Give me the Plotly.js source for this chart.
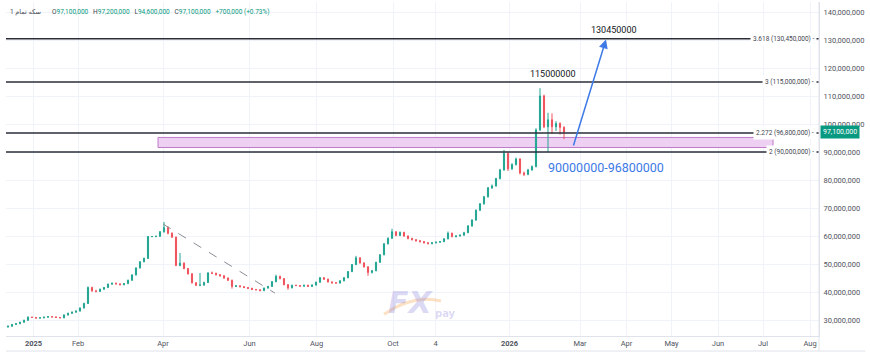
<!DOCTYPE html>
<html>
<head>
<meta charset="utf-8">
<script src="https://cdn.plot.ly/plotly-3.0.1.min.js"></script>
<style>html,body{margin:0;padding:0;background:#fff;}#chart{width:870px;height:357px;}</style>
</head>
<body>
<div id="chart"></div>
<script>
// Prices in millions of rials (one candle per bar)
const openM = [
27.5,27.8,28.4,28.7,29.2,29.9,31.0,30.9,30.7,30.8,
31.0,31.2,31.1,30.9,30.8,31.8,32.4,32.8,33.2,34.3,
35.9,41.6,40.4,40.2,41.0,41.6,42.8,43.1,42.9,42.6,
43.0,44.2,46.1,48.6,50.8,52.0,59.8,59.8,59.9,61.5,
63.0,61.0,59.6,49.5,50.3,48.4,46.5,43.3,42.4,42.5,
43.4,46.8,46.7,46.2,45.8,45.0,44.2,42.0,42.2,41.9,
41.6,41.3,40.9,40.8,40.5,41.4,42.0,43.7,45.6,44.8,
42.6,41.5,42.4,42.3,42.1,42.4,42.0,42.5,43.5,45.1,
44.6,43.6,43.3,43.2,44.0,45.1,47.3,49.8,52.2,50.4,
49.0,47.0,47.6,50.6,53.3,57.2,59.2,61.5,60.2,61.3,
60.0,59.1,58.7,58.3,58.0,57.6,57.3,57.6,57.8,58.0,
59.0,61.0,59.8,60.0,60.3,61.2,63.6,65.7,69.2,71.5,
74.0,77.2,77.9,80.5,83.6,89.5,84.0,85.5,87.5,82.5,
82.0,83.6,84.8,97.9,110.0,99.0,101.5,99.0,100.2,98.8];
const highM = [
28.0,28.6,28.9,29.4,30.1,31.3,31.2,31.1,31.0,31.2,
31.4,31.4,31.3,31.1,32.0,32.6,33.0,33.4,34.5,36.2,
42.0,41.9,40.8,41.2,41.8,43.0,43.4,43.4,43.1,43.2,
44.4,46.3,48.8,51.0,52.3,60.0,60.0,60.1,61.8,65.0,
63.5,61.3,59.8,53.9,50.6,48.6,46.7,43.5,46.8,43.7,
47.1,47.3,46.9,46.4,46.0,45.2,44.4,42.5,42.4,42.1,
41.8,41.5,41.1,41.0,41.6,42.2,43.9,46.2,45.8,45.0,
42.8,42.6,42.6,42.5,42.6,42.6,42.7,43.7,45.4,45.3,
44.8,43.8,43.5,44.2,45.3,47.5,50.0,52.9,52.4,50.6,
49.2,47.9,50.8,53.5,57.5,59.5,62.6,61.7,61.6,61.5,
60.2,59.4,58.9,58.6,58.2,57.8,57.8,58.0,58.2,59.2,
61.6,61.2,60.3,60.5,61.5,63.9,66.0,69.5,71.8,74.3,
77.5,78.4,80.8,84.0,90.7,89.8,86.0,88.0,87.8,83.0,
84.0,85.2,98.5,112.8,110.5,104.0,103.8,101.0,100.6,99.2];
const lowM = [
27.3,27.6,28.2,28.5,29.0,29.7,30.7,30.5,30.5,30.6,
30.8,30.9,30.7,30.6,30.6,31.6,32.2,32.6,33.0,34.1,
35.7,40.1,39.9,40.0,40.8,41.4,42.6,42.7,42.4,42.4,
42.8,44.0,45.9,48.4,50.6,51.8,59.6,59.6,59.7,61.2,
60.6,59.3,49.2,49.2,48.1,46.2,43.0,42.1,42.1,42.2,
43.2,46.4,45.9,45.5,44.7,43.9,41.2,41.8,41.7,41.4,
41.1,40.7,40.6,40.3,40.3,41.2,41.8,43.5,44.5,42.4,
40.8,41.3,42.1,41.9,41.9,41.8,41.8,42.3,43.3,44.3,
43.4,43.0,42.9,43.0,43.8,44.9,47.1,49.6,50.1,48.7,
45.8,46.6,47.4,50.4,53.1,57.0,59.0,59.9,60.0,59.7,
58.8,58.4,58.0,57.7,57.3,57.0,57.0,57.3,57.6,57.8,
58.8,59.5,59.5,59.8,60.1,61.0,63.3,65.4,68.9,71.2,
73.7,76.8,77.6,80.2,83.3,83.2,83.6,85.2,82.0,81.4,
81.7,83.3,84.5,97.5,98.5,90.1,96.5,97.5,96.2,94.6];
const closeM = [
27.8,28.4,28.7,29.2,29.9,31.0,30.9,30.7,30.8,31.0,
31.2,31.1,30.9,30.8,31.8,32.4,32.8,33.2,34.3,35.9,
41.6,40.4,40.2,41.0,41.6,42.8,43.1,42.9,42.6,43.0,
44.2,46.1,48.6,50.8,52.0,59.8,59.8,59.9,61.5,63.0,
61.0,59.6,49.5,50.3,48.4,46.5,43.3,42.4,42.5,43.4,
46.8,46.7,46.2,45.8,45.0,44.2,42.0,42.2,41.9,41.6,
41.3,40.9,40.8,40.5,41.4,42.0,43.7,45.6,44.8,42.6,
41.5,42.4,42.3,42.1,42.4,42.0,42.5,43.5,45.1,44.6,
43.6,43.3,43.2,44.0,45.1,47.3,49.8,52.2,50.4,49.0,
47.0,47.6,50.6,53.3,57.2,59.2,61.5,60.2,61.3,60.0,
59.1,58.7,58.3,58.0,57.6,57.3,57.6,57.8,58.0,59.0,
61.0,59.8,60.0,60.3,61.2,63.6,65.7,69.2,71.5,74.0,
77.2,77.9,80.5,83.6,89.5,84.0,85.5,87.5,82.5,82.0,
83.6,84.8,97.9,110.0,99.0,101.5,99.0,100.2,98.8,97.1];

// Time axis: bar position of each label, and the label text
const tickBars = [6.375, 17.5, 38.75, 60.375, 77.125, 96.25, 106.875, 125.375, 143, 154.625, 165.875, 177.5, 188.75, 200.5];
const tickLabels = ['<b>2025</b>','Feb','Apr','Jun','Aug','Oct','4','<b>2026</b>','Mar','Apr','May','Jun','Jul','Aug'];

// Price axis ticks (millions)
const priceTicksM = [30,40,50,60,70,80,90,100,110,120,130,140];

// Fibonacci extension levels
const levelRatios = ['3.618','3','2.272','2'];
const levelPricesM = [130.45, 115, 96.8, 90];

// Zone and targets
const zoneLowM = 91.6, zoneHighM = 95.2;
const targetTexts = ['130450000','115000000','90000000-96800000'];

// Header (last bar)
const symbolName = 'سکه تمام 1';
const lastO = '97,100,000', lastH = '97,200,000', lastL = '94,600,000', lastC = '97,100,000', lastChg = '+700,000 (+0.73%)';
const lastPriceText = '97,100,000';

const M = 1e6;
const idx = closeM.map((_, i) => i);
const up = '#22a592', down = '#f0525c';

const trace = {
  type: 'candlestick',
  x: idx,
  open: openM.map(v => v * M),
  high: highM.map(v => v * M),
  low: lowM.map(v => v * M),
  close: closeM.map(v => v * M),
  increasing: {line: {color: up, width: 1}, fillcolor: up},
  decreasing: {line: {color: down, width: 1}, fillcolor: down},
  whiskerwidth: 0,
  hoverinfo: 'skip'
};

const FONT = 'Roboto, "DejaVu Sans", sans-serif';
const shapes = [];
const annotations = [];

// pink zone
shapes.push({type:'rect', xref:'x', yref:'y', x0:37.5, x1:191.25, y0:zoneLowM*M, y1:zoneHighM*M,
  fillcolor:'#eed0f2', line:{color:'#c07ac9', width:1}, layer:'between'});

// level lines + labels
levelPricesM.forEach((p, i) => {
  shapes.push({type:'line', xref:'paper', yref:'y', x0:0, x1:1, y0:p*M, y1:p*M,
    line:{color:'#2a2e39', width:1.5}});
  const txt = levelRatios[i] + ' (' + (p*M).toLocaleString('en-US') + ') -';
  annotations.push({xref:'paper', yref:'y', x:1, y:p*M, xanchor:'right', yanchor:'middle', xshift:-2,
    text: txt, showarrow:false, bgcolor:'#ffffff', borderpad:2,
    font:{family:FONT, size:6.5, color:'#434651'}});
});

// dashed trend line
shapes.push({type:'line', xref:'x', yref:'y', x0:38.75, y0:64.3*M, x1:66.75, y1:39.6*M,
  line:{color:'#8a8d96', width:1, dash:'dash'}});

// separators on the price and time scales
shapes.push({type:'line', xref:'paper', yref:'paper', x0:1, x1:1, y0:-0.045, y1:1, line:{color:'#e0e3eb', width:1}});
shapes.push({type:'line', xref:'paper', yref:'paper', x0:0, x1:1.057, y0:-0.045, y1:-0.045, line:{color:'#e0e3eb', width:1}});

// watermark swoosh
shapes.push({type:'path', xref:'paper', yref:'paper',
  path:'M 0.465 0.065 Q 0.50 0.125 0.535 0.105', line:{color:'rgba(245,170,90,0.35)', width:3}});

// targets
annotations.push({xref:'x', yref:'y', x:151.5, y:133.6*M, text:targetTexts[0], showarrow:false,
  font:{family:FONT, size:9, color:'#131722'}});
annotations.push({xref:'x', yref:'y', x:136.25, y:117.9*M, text:targetTexts[1], showarrow:false,
  font:{family:FONT, size:9, color:'#131722'}});
annotations.push({xref:'x', yref:'y', x:149.6, y:84.3*M, text:targetTexts[2], showarrow:false,
  font:{family:FONT, size:12.5, color:'#3d7ae6'}});
// arrow
annotations.push({xref:'x', yref:'y', axref:'x', ayref:'y', x:149.5, y:130.2*M, ax:141.25, ay:91.8*M,
  text:'', showarrow:true, arrowhead:2, arrowsize:1.2, arrowwidth:1.5, arrowcolor:'#3d7ae6', standoff:0, startstandoff:0});

// last price label
annotations.push({xref:'paper', yref:'y', x:1, y:closeM[closeM.length-1]*M, xanchor:'left', yanchor:'middle', xshift:1,
  text:lastPriceText, showarrow:false, bgcolor:'#089981', borderpad:2,
  font:{family:FONT, size:7, color:'#ffffff'}});

// header
annotations.push({xref:'paper', yref:'paper', x:0.0025, y:0.970, xanchor:'left', yanchor:'middle',
  text:symbolName, showarrow:false, font:{family:FONT, size:6.5, color:'#434651'}});
const g = s => '<span style="color:#089981">' + s + '</span>';
annotations.push({xref:'paper', yref:'paper', x:0.054, y:0.970, xanchor:'left', yanchor:'middle', showarrow:false,
  text:'O' + g(lastO) + '   H' + g(lastH) + '   L' + g(lastL) + '   C' + g(lastC) + '   ' + g(lastChg),
  font:{family:FONT, size:6.5, color:'#434651'}});

// watermark
annotations.push({xref:'paper', yref:'paper', x:0.497, y:0.10, xanchor:'center', yanchor:'middle', showarrow:false,
  text:'<b><i>FX</i></b>', font:{family:'"DejaVu Sans", sans-serif', size:30, color:'rgba(130,120,215,0.28)'}});
annotations.push({xref:'paper', yref:'paper', x:0.541, y:0.068, xanchor:'center', yanchor:'middle', showarrow:false,
  text:'<b>pay</b>', font:{family:'"DejaVu Sans", sans-serif', size:10, color:'rgba(130,120,215,0.28)'}});

const layout = {
  width: 870, height: 357,
  margin: {l:6, r:51, t:2, b:21, pad:0},
  paper_bgcolor:'#ffffff', plot_bgcolor:'#ffffff',
  showlegend:false,
  boxgap: 0.6,
  font:{family:FONT},
  xaxis: {
    type:'linear', range:[-0.5, 202.75],
    tickmode:'array', tickvals:tickBars, ticktext:tickLabels,
    tickfont:{family:FONT, size:7.5, color:'#50535e'},
    showgrid:true, gridcolor:'#f0f3fa', zeroline:false,
    showline:true, linecolor:'#e0e3eb', ticks:'', fixedrange:true,
    rangeslider:{visible:false}
  },
  yaxis: {
    side:'right', range:[24.29e6, 143.57e6],
    tickmode:'array', tickvals:priceTicksM.map(v => v*M), tickformat:',d',
    tickfont:{family:FONT, size:7.5, color:'#50535e'},
    showgrid:true, gridcolor:'#f0f3fa', zeroline:false,
    showline:true, linecolor:'#e0e3eb', ticks:'', ticklabelstandoff:2, fixedrange:true
  },
  shapes: shapes,
  annotations: annotations
};

Plotly.newPlot('chart', [trace], layout, {displayModeBar:false, staticPlot:true});
</script>
</body>
</html>
